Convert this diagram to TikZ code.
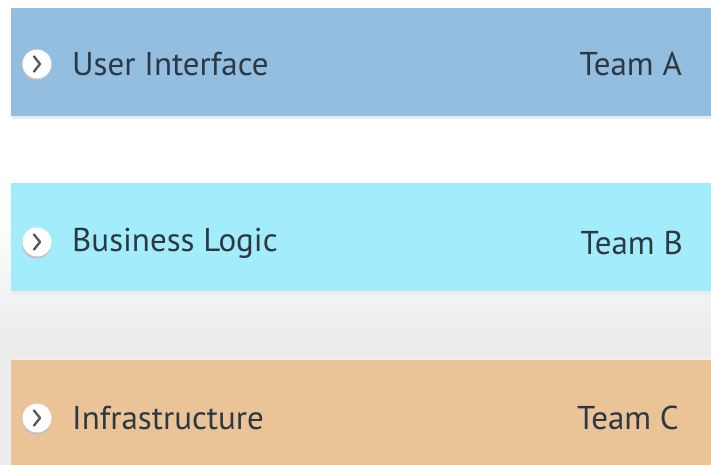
\documentclass[tikz,border=0pt]{standalone}
\usepackage{fontspec}
\setmainfont{PT Sans}
\usepackage{tikz}
\usetikzlibrary{calc}

\definecolor{layerA}{RGB}{147,190,224}
\definecolor{layerB}{RGB}{163,236,251}
\definecolor{layerC}{RGB}{234,196,150}
\definecolor{labelink}{RGB}{44,56,66}
\definecolor{backgray}{RGB}{236,236,239}

\tikzset{
  layer/.style={draw=none, minimum width=700, minimum height=108, inner sep=0, anchor=north west},
  laytext/.style={text=labelink, font=\fontsize{33}{33}\selectfont, inner sep=0},
  bullet/.style={circle, fill=white, minimum size=29, inner sep=0}
}

\begin{document}
\begin{tikzpicture}[x=1pt,y=1pt,yscale=-1]
    \useasboundingbox (0,0) rectangle (711,465);
    %background
    \fill[white] (0,0) rectangle (711,465);
    \shade[top color=white, bottom color=backgray] (0,220) rectangle (711,330);
    \fill[backgray] (0,330) rectangle (711,465);

    %Shape: Rectangle [layer A]
    \fill[black!8] (12,10) rectangle (711,119);
    \draw (11,8) node [layer, fill=layerA] (ui) {};
    %Shape: Rectangle [layer B]
    \fill[black!8] (12,185) rectangle (711,294);
    \draw (11,183) node [layer, fill=layerB] (bl) {};
    %Shape: Rectangle [layer C]
    \fill[white!70!layerC] (11,358) rectangle (711,361);
    \draw (11,360) node [layer, fill=layerC] (infra) {};

    %Shape: Circle [bullets]
    \foreach \n/\y in {ui/64, bl/242, infra/418}{
      \fill[black!25] (36.5,\y+2) circle (14.5);
      \draw (37,\y) node [bullet] (\n dot) {};
      \draw[black!65, line width=2.4, line cap=round, line join=round]
        ($(\n dot)+(-3,-7.5)$) -- ++(6,7.5) -- ++(-6,7.5);
    }

    % Text Node
    \draw (72,64) node [laytext, anchor=west] (uitext) {User Interface};
    % Text Node
    \draw (682,64) node [laytext, anchor=east] (uiteam) {Team A};
    % Text Node
    \draw (72,243) node [laytext, anchor=west] (bltext) {Business Logic};
    % Text Node
    \draw (683,243) node [laytext, anchor=east] (blteam) {Team B};
    % Text Node
    \draw (72,418) node [laytext, anchor=west] (infratext) {Infrastructure};
    % Text Node
    \draw (679,418) node [laytext, anchor=east] (infrateam) {Team C};

\end{tikzpicture}
\end{document}
